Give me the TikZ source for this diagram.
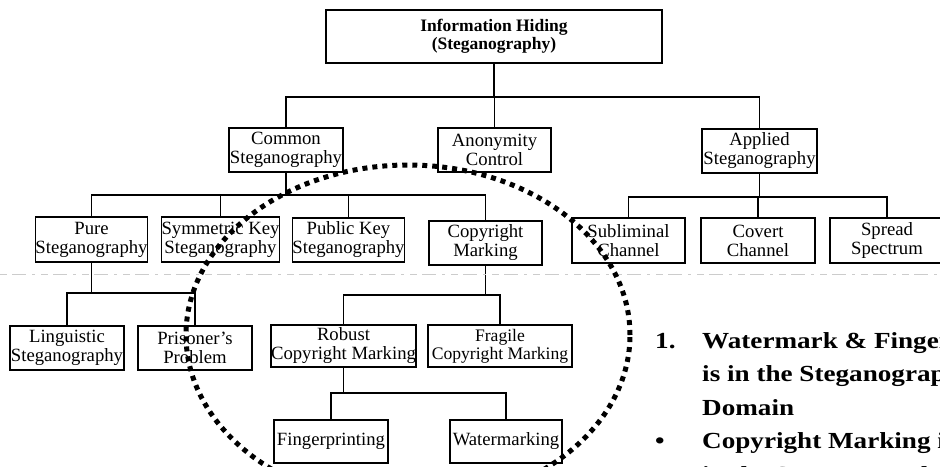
\documentclass[tikz,border=0pt]{standalone}
\usepackage{fontspec}
\setmainfont{Liberation Serif}
\newfontfamily\widebold[FakeStretch=1.18]{Liberation Serif Bold}
\newcommand\bxfont{\fontsize{18.7}{19}\selectfont}
\newcommand\topfont{\fontsize{17.5}{18}\selectfont\bfseries}
\newcommand\notefont{\fontsize{23}{33}\widebold}
\begin{document}
\begin{tikzpicture}[x=1pt,y=-1pt,
  box/.style={draw, line width=1.8pt, inner sep=0pt, align=center, font=\bxfont},
  sz/.style 2 args={minimum width=#1pt, minimum height=#2pt},
  link/.style={line width=1.4pt},
  ring/.style={line width=5pt, dash pattern=on 5pt off 5pt},
  faint/.style={gray!40, line width=0.8pt, dash pattern=on 7pt off 5pt on 14pt off 6pt on 3pt off 6pt},
  note/.style={anchor=base west, inner sep=0pt, font=\notefont}]
\useasboundingbox (0,0) rectangle (940,466);
\clip (0,0) rectangle (940,466);
\fill[white] (0,0) rectangle (940,466);

% bus levels of the tree
\coordinate (b1) at (0,97);
\coordinate (b2) at (0,195);
\coordinate (b3) at (0,197);
\coordinate (b4) at (0,293);
\coordinate (b5) at (0,295);
\coordinate (b6) at (0,393);

% root
\node[box, sz={336}{53}, font=\topfont] (info) at (494,36.5) {Information Hiding\\(Steganography)};

% second level
\node[box, sz={114}{44}] (common) at (286,150) {Common\\Steganography};
\node[box, sz={113}{44}] (anon) at (494.5,150) {Anonymity\\Control};
\node[box, sz={115}{44}] (applied) at (759.5,151) {Applied\\Steganography};

% third level
\node[box, sz={111}{45}] (pure) at (91.5,239.5) {Pure\\Steganography};
\node[box, sz={115}{45}] (symm) at (220.5,239.5) {Symmetric Key\\Steganography};
\node[box, sz={111}{44}] (public) at (348.5,240) {Public Key\\Steganography};
\node[box, sz={113}{44}] (copy) at (485.5,243) {Copyright\\Marking};
\node[box, sz={113}{45}] (sublim) at (628.5,240.5) {Subliminal\\Channel};
\node[box, sz={114}{45}] (covert) at (758,240.5) {Covert\\Channel};
\node[box, sz={114}{45}] (spread) at (887,240.5) {Spread\\Spectrum};

% fourth level
\node[box, sz={114}{44}] (ling) at (67,348) {Linguistic\\Steganography};
\node[box, sz={114}{44}] (prison) at (195,348) {Prisoner's\\Problem};
\node[box, sz={139}{42}] (robust) at (343.5,346) {Robust\\Copyright Marking};
\node[box, sz={144}{42}, font=\fontsize{17.6}{18}\selectfont] (fragile) at (500,346) {Fragile\\Copyright Marking};

% fifth level
\node[box, sz={114}{43}] (finger) at (331,441.5) {Fingerprinting};
\node[box, sz={112}{43}] (water) at (506,441.5) {Watermarking};

% connectors
\draw[link] (info.south) -- (info.south |- b1);
\draw[link] (common.north) |- (applied.north |- b1) -- (applied.north);
\draw[link] (anon.north) -- (anon.north |- b1);

\draw[link] (common.south) -- (common.south |- b2);
\draw[link] (pure.north) |- (copy.north |- b2) -- (copy.north);
\draw[link] (symm.north) -- (symm.north |- b2);
\draw[link] (public.north) -- (public.north |- b2);

\draw[link] (applied.south) -- (applied.south |- b3);
\draw[link] (sublim.north) |- (spread.north |- b3) -- (spread.north);
\draw[link] (covert.north) -- (covert.north |- b3);

\draw[link] (pure.south) -- (pure.south |- b4);
\draw[link] (ling.north) |- (prison.north |- b4) -- (prison.north);

\draw[link] (copy.south) -- (copy.south |- b5);
\draw[link] (robust.north) |- (fragile.north |- b5) -- (fragile.north);

\draw[link] (robust.south) -- (robust.south |- b6);
\draw[link] (finger.north) |- (water.north |- b6) -- (water.north);

% faint separator
\draw[faint] (0,274) -- (940,274);

% dotted ring round the copyright marking branch
\draw[ring] (408,335) ellipse [x radius=222pt, y radius=170pt];

% notes
\node[note] (n1) at (655,348) {1.};
\node[note] (t1) at (702,348) {Watermark \& Fingerprinting};
\node[note] (t2) at (702,381.5) {is in the Steganography};
\node[note] (t3) at (702,415) {Domain};
\node[note] (n2) at (655,448.5) {•};
\node[note] (t4) at (702,448.5) {Copyright Marking is};
\node[note] (t5) at (702,482) {in the Steganography};
\end{tikzpicture}
\end{document}
